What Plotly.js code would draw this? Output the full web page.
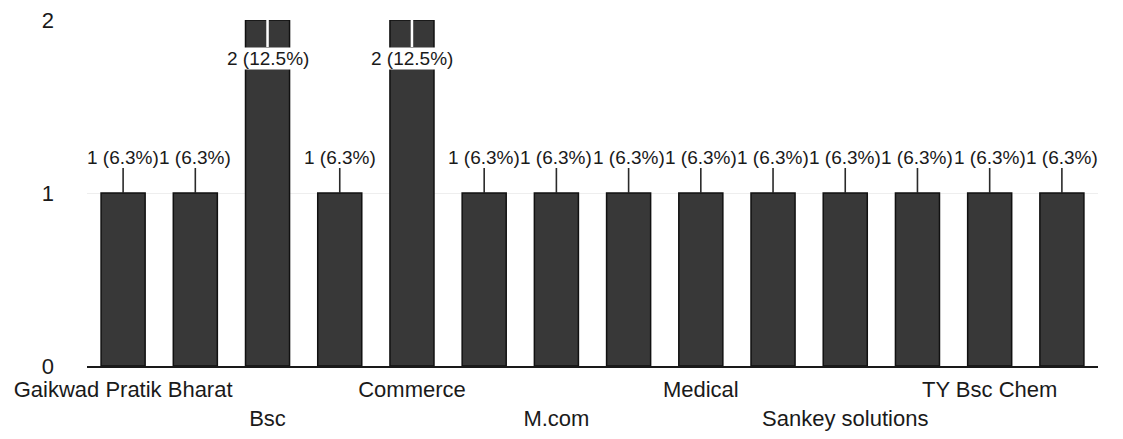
<!DOCTYPE html>
<html>
<head>
<meta charset="utf-8">
<script src="https://cdn.plot.ly/plotly-3.0.1.min.js"></script>
<style>
  html, body { margin: 0; padding: 0; background: #ffffff; }
  #chart { width: 1123px; height: 439px; }
</style>
</head>
<body>
<div id="chart"></div>
<script>
// Category names (only every other one is printed on the axis in the reference;
// the unprinted ones are unknown and kept empty)
const categories = [
  "Gaikwad Pratik Bharat", "", "Bsc", "", "Commerce", "", "M.com", "",
  "Medical", "", "Sankey solutions", "", "TY Bsc Chem", ""
];
// Which printed labels sit on the lower row (staggered)
const lowerRow = [false, false, true, false, false, false, true, false,
                  false, false, true, false, false, false];
// Response counts
const counts = [1, 1, 2, 1, 2, 1, 1, 1, 1, 1, 1, 1, 1, 1];
// Percent labels as printed
const percents = ["6.3%", "6.3%", "12.5%", "6.3%", "12.5%", "6.3%", "6.3%",
                  "6.3%", "6.3%", "6.3%", "6.3%", "6.3%", "6.3%", "6.3%"];
const yTicks = [0, 1, 2];

const xs = categories.map((_, i) => i);
const tickvals = [], ticktext = [];
categories.forEach((c, i) => {
  if (c !== "") { tickvals.push(i); ticktext.push(lowerRow[i] ? "<br>" + c : c); }
});

const yMax = Math.max(...counts);
const annotations = counts.map((v, i) => {
  const top = v === yMax;
  return {
    x: i, y: v, xref: 'x', yref: 'y',
    text: v + " (" + percents[i] + ")",
    showarrow: true, arrowhead: 0, arrowwidth: top ? 2.5 : 1.6,
    arrowcolor: top ? '#ffffff' : '#2a2a2a',
    ax: 0, ay: top ? 38 : -36,
    standoff: 0, startstandoff: 0,
    bgcolor: '#ffffff', borderpad: 0,
    font: { family: 'Liberation Sans, Arial, sans-serif', size: 19, color: '#1a1a1a' }
  };
});

const trace = {
  type: 'bar',
  x: xs,
  y: counts,
  marker: { color: '#383838', line: { color: '#111111', width: 1.5 } },
  hoverinfo: 'skip'
};

const layout = {
  width: 1123, height: 439,
  margin: { l: 87, r: 25, t: 20, b: 73 },
  paper_bgcolor: '#ffffff', plot_bgcolor: '#ffffff',
  bargap: 0.39,
  showlegend: false,
  font: { family: 'Liberation Sans, Arial, sans-serif', size: 22, color: '#1a1a1a' },
  xaxis: {
    range: [-0.5, categories.length - 0.5],
    tickvals: tickvals, ticktext: ticktext, tickangle: 0,
    showgrid: false, zeroline: false,
    showline: true, linecolor: '#1a1a1a', linewidth: 2,
    ticks: '', ticklabelstandoff: 3,
    tickfont: { size: 22, color: '#1a1a1a' }
  },
  yaxis: {
    range: [0, yMax], tickvals: yTicks, ticktext: yTicks.map(String),
    showgrid: true, gridcolor: '#eeeeee', gridwidth: 1,
    zeroline: false, showline: false, ticks: '',
    ticklabelstandoff: 32,
    tickfont: { size: 22, color: '#1a1a1a' }
  },
  annotations: annotations
};

Plotly.newPlot('chart', [trace], layout, { displayModeBar: false, staticPlot: true });
</script>
</body>
</html>
